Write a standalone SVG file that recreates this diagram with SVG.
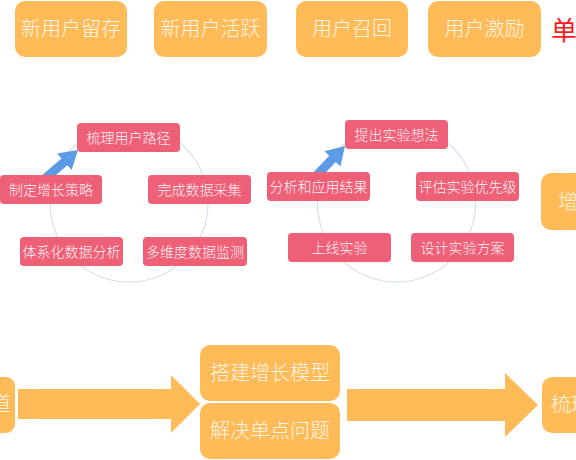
<svg xmlns="http://www.w3.org/2000/svg" width="576" height="460" viewBox="0 0 576 460">
<style>
  .ob { fill: #FFBB57; }
  .pb { fill: #EE6077; }
  .ot { font-family: "Noto Sans CJK SC", "Noto Sans", sans-serif; font-size: 20px; font-weight: 300; fill: #FFF5E6; text-anchor: middle; }
  .pt { font-family: "Noto Sans CJK SC", "Noto Sans", sans-serif; font-size: 14px; font-weight: 300; fill: #FFF2F4; text-anchor: middle; }
  .ring { fill: none; stroke: #D5DFEE; stroke-width: 1.2; }
  .blue { fill: #5B9BE6; }
</style>
<rect width="576" height="460" fill="#FFFFFF"/>

<g id="top-row">
  <g id="n-xinyonghu-liucun"><rect class="ob" x="15" y="1" width="112" height="56" rx="10"/><text class="ot" x="71" y="36">新用户留存</text></g>
  <g id="n-xinyonghu-huoyue"><rect class="ob" x="154" y="1" width="113" height="56" rx="10"/><text class="ot" x="210.5" y="36">新用户活跃</text></g>
  <g id="n-yonghu-zhaohui"><rect class="ob" x="296" y="1" width="112" height="56" rx="10"/><text class="ot" x="352" y="36">用户召回</text></g>
  <g id="n-yonghu-jili"><rect class="ob" x="428" y="1" width="113" height="56" rx="10"/><text class="ot" x="484.5" y="36">用户激励</text></g>
  <g id="n-dan"><text x="551" y="40" font-family="Noto Sans CJK SC, sans-serif" font-size="26" fill="#FF1A1A">单</text></g>
</g>

<g id="connectors">
  <circle class="ring" cx="129" cy="203" r="79"/>
  <circle class="ring" cx="396.5" cy="203" r="79"/>
  <g transform="translate(78,150) rotate(-41)"><polygon class="blue" points="-46,-4.5 -18,-4.5 -18,-11 0,0 -18,11 -18,4.5 -46,4.5"/></g>
  <g transform="translate(345,146) rotate(-46)"><polygon class="blue" points="-46,-4.5 -18,-4.5 -18,-11 0,0 -18,11 -18,4.5 -46,4.5"/></g>
  <polygon class="ob" points="18,389 171,389 171,375 200,404 171,433 171,419 18,419"/>
  <polygon class="ob" points="347,389 505,389 505,373 538,405 505,437 505,421 347,421"/>
</g>

<g id="cycle-left">
  <g id="n-shuli-lujing"><rect class="pb" x="77" y="123" width="103" height="29" rx="4"/><text class="pt" x="128.5" y="142.5">梳理用户路径</text></g>
  <g id="n-zhiding-celue"><rect class="pb" x="0" y="175" width="102" height="29" rx="4"/><text class="pt" x="51" y="194.5">制定增长策略</text></g>
  <g id="n-wancheng-caiji"><rect class="pb" x="148" y="175" width="103" height="29" rx="4"/><text class="pt" x="199.5" y="194.5">完成数据采集</text></g>
  <g id="n-tixihua-fenxi"><rect class="pb" x="20" y="237" width="103" height="29" rx="4"/><text class="pt" x="71.5" y="256.5">体系化数据分析</text></g>
  <g id="n-duoweidu-jiance"><rect class="pb" x="143" y="237" width="104" height="29" rx="4"/><text class="pt" x="195" y="256.5">多维度数据监测</text></g>
</g>

<g id="cycle-right">
  <g id="n-tichu-xiangfa"><rect class="pb" x="345" y="120" width="103" height="29" rx="4"/><text class="pt" x="396.5" y="139.5">提出实验想法</text></g>
  <g id="n-fenxi-jieguo"><rect class="pb" x="267" y="172" width="103" height="29" rx="4"/><text class="pt" x="318.5" y="191.5">分析和应用结果</text></g>
  <g id="n-pinggu-youxianji"><rect class="pb" x="416" y="172" width="103" height="29" rx="4"/><text class="pt" x="467.5" y="191.5">评估实验优先级</text></g>
  <g id="n-shangxian-shiyan"><rect class="pb" x="288" y="233" width="103" height="29" rx="4"/><text class="pt" x="339.5" y="252.5">上线实验</text></g>
  <g id="n-sheji-fangan"><rect class="pb" x="411" y="233" width="103" height="29" rx="4"/><text class="pt" x="462.5" y="252.5">设计实验方案</text></g>
</g>

<g id="n-zeng"><rect class="ob" x="541" y="173" width="60" height="57" rx="10"/><text class="ot" x="558" y="209" style="text-anchor:start">增</text></g>

<g id="bottom-row">
  <g id="n-left"><rect class="ob" x="-20" y="377" width="35" height="56" rx="9"/><text class="ot" x="11" y="411" style="text-anchor:end">道</text></g>
  <g id="n-dajian-moxing"><rect class="ob" x="200" y="345" width="140" height="56" rx="10"/><text class="ot" x="270" y="380">搭建增长模型</text></g>
  <g id="n-jiejue-wenti"><rect class="ob" x="200" y="403" width="140" height="56" rx="10"/><text class="ot" x="270" y="438">解决单点问题</text></g>
  <g id="n-shuli"><rect class="ob" x="542" y="377" width="60" height="56" rx="10"/><text class="ot" x="551" y="412" style="text-anchor:start">梳理</text></g>
</g>
</svg>
